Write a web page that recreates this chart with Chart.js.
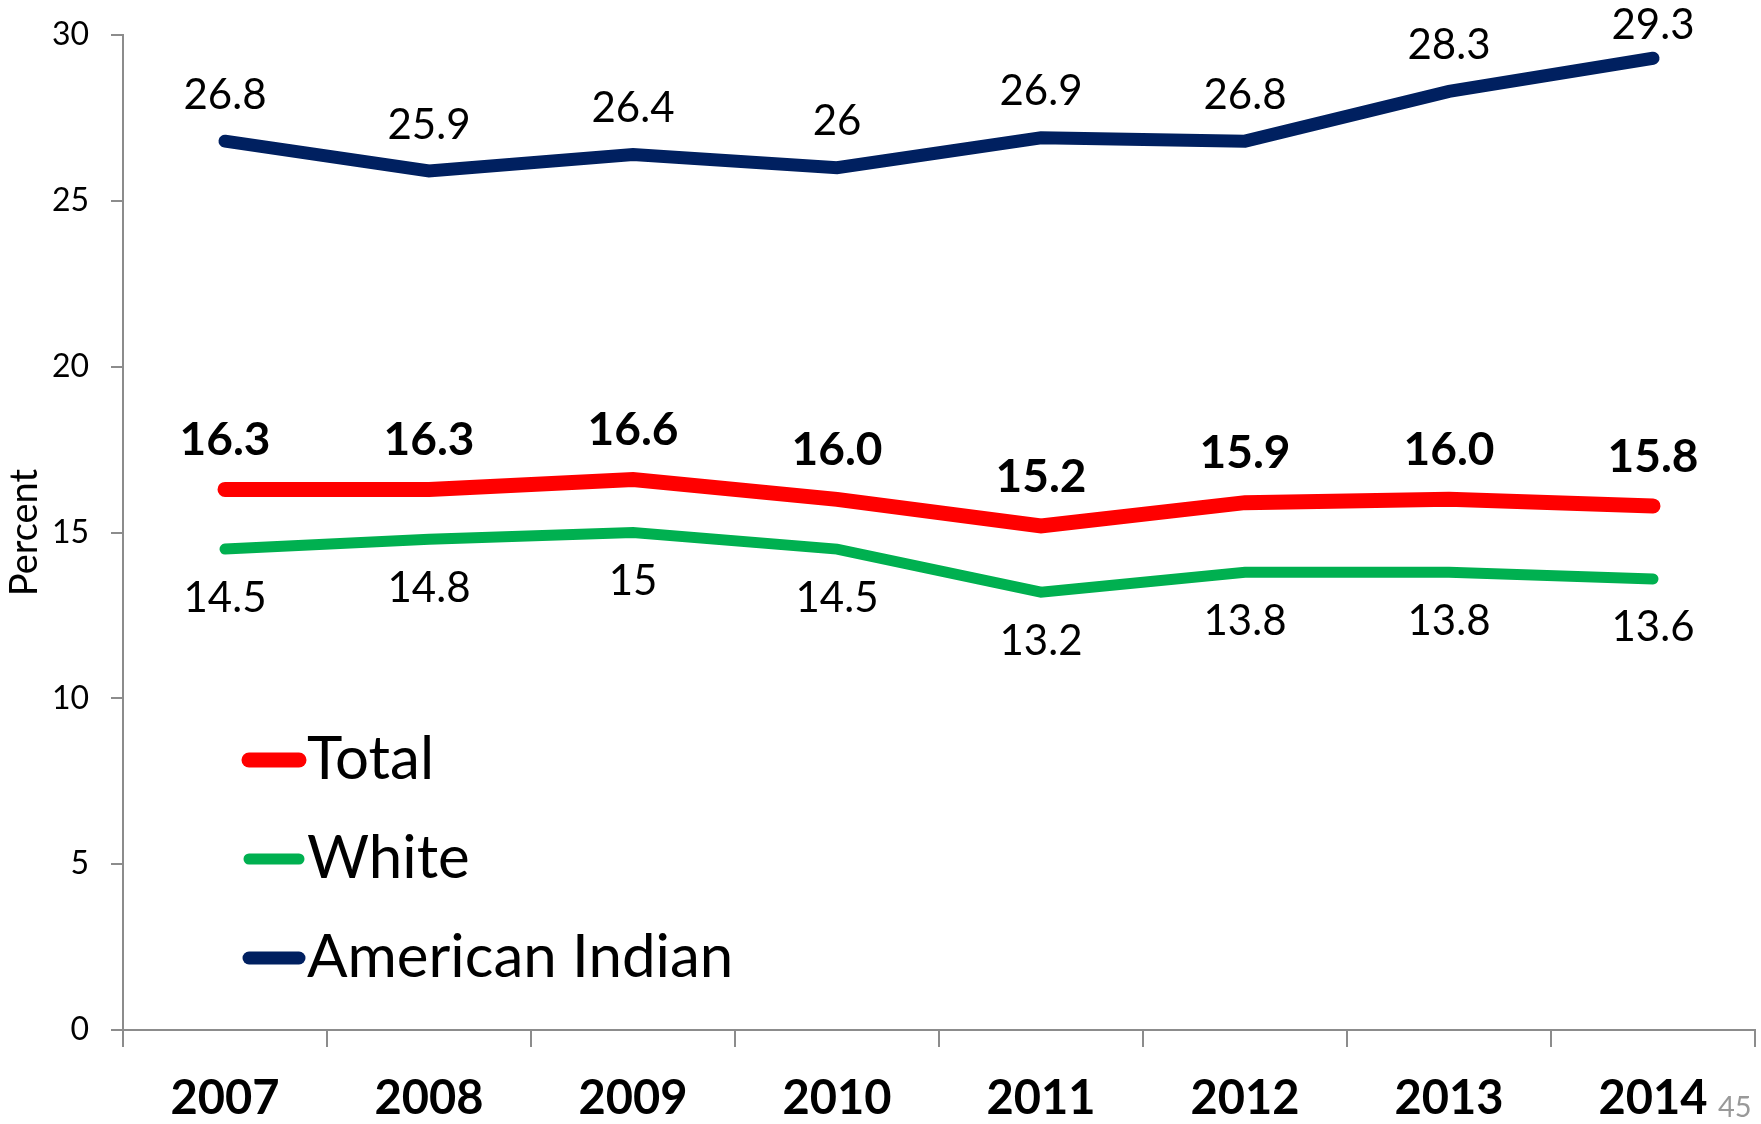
<!DOCTYPE html>
<html>
<head>
<meta charset="utf-8">
<script src="https://cdn.jsdelivr.net/npm/chart.js@4"></script>
<style>
  html, body { margin: 0; padding: 0; background: #fff; }
  #wrap { position: relative; width: 1761px; height: 1124px; }
  #page { position: absolute; left: 1718px; top: 1088px; font-family: Lato, sans-serif; font-size: 29px; color: #999; }
</style>
</head>
<body>
<div id="wrap">
  <canvas id="c" width="1761" height="1124"></canvas>
  <div id="page">45</div>
</div>
<script>
const years = ['2007', '2008', '2009', '2010', '2011', '2012', '2013', '2014'];
const totalValues = [16.3, 16.3, 16.6, 16.0, 15.2, 15.9, 16.0, 15.8];
const whiteValues = [14.5, 14.8, 15, 14.5, 13.2, 13.8, 13.8, 13.6];
const americanIndianValues = [26.8, 25.9, 26.4, 26, 26.9, 26.8, 28.3, 29.3];
const totalLabels = ['16.3', '16.3', '16.6', '16.0', '15.2', '15.9', '16.0', '15.8'];
const whiteLabels = ['14.5', '14.8', '15', '14.5', '13.2', '13.8', '13.8', '13.6'];
const americanIndianLabels = ['26.8', '25.9', '26.4', '26', '26.9', '26.8', '28.3', '29.3'];
const yTicks = [0, 5, 10, 15, 20, 25, 30];

const FONT = 'Lato, "Open Sans", sans-serif';
const AXIS = '#8c8c8c';

const labelPlugin = {
  id: 'valueLabels',
  afterDatasetsDraw(chart) {
    const ctx = chart.ctx;
    ctx.save();
    ctx.textAlign = 'center';
    ctx.textBaseline = 'middle';
    ctx.fillStyle = '#000';
    chart.data.datasets.forEach((ds, di) => {
      const meta = chart.getDatasetMeta(di);
      meta.data.forEach((pt, i) => {
        let y = pt.y + ds.labelOffset;
        if (y < 25) y = 25;
        ctx.font = ds.labelFont;
        ctx.fillText(ds.labelTexts[i], pt.x, y);
      });
    });
    ctx.restore();
  }
};

const legendPlugin = {
  id: 'innerLegend',
  afterDraw(chart) {
    const ctx = chart.ctx;
    const a = chart.chartArea;
    ctx.save();
    ctx.textBaseline = 'middle';
    ctx.textAlign = 'left';
    ctx.fillStyle = '#000';
    ctx.font = '60px ' + FONT;
    chart.data.datasets.forEach((ds, i) => {
      const y = 760 + i * 99;
      const x0 = a.left + 126;
      ctx.strokeStyle = ds.borderColor;
      ctx.lineWidth = ds.legendWidth;
      ctx.lineCap = 'round';
      ctx.beginPath();
      ctx.moveTo(x0, y);
      ctx.lineTo(x0 + 50, y);
      ctx.stroke();
      ctx.fillText(ds.label, x0 + 58, y);
    });
    ctx.restore();
  }
};

new Chart(document.getElementById('c'), {
  type: 'line',
  data: {
    labels: years,
    datasets: [
      { label: 'Total', data: totalValues, borderColor: '#ff0000', borderWidth: 15, labelTexts: totalLabels,
        labelOffset: -49, labelFont: 'bold 46px ' + FONT, legendWidth: 15 },
      { label: 'White', data: whiteValues, borderColor: '#00b050', borderWidth: 11, labelTexts: whiteLabels,
        labelOffset: 49, labelFont: '42px ' + FONT, legendWidth: 11 },
      { label: 'American Indian', data: americanIndianValues, borderColor: '#002060', borderWidth: 13, labelTexts: americanIndianLabels,
        labelOffset: -46, labelFont: '42px ' + FONT, legendWidth: 13 }
    ]
  },
  options: {
    responsive: false,
    animation: false,
    events: [],
    layout: { padding: { left: 0, top: 35, right: 6, bottom: 0 } },
    elements: {
      point: { radius: 0 },
      line: { tension: 0, borderCapStyle: 'round', borderJoinStyle: 'miter', fill: false }
    },
    plugins: { legend: { display: false }, tooltip: { enabled: false } },
    scales: {
      x: {
        type: 'category',
        offset: true,
        grid: { offset: true, drawOnChartArea: false, drawTicks: true, tickLength: 17, color: AXIS, lineWidth: 2 },
        border: { color: AXIS, width: 2 },
        ticks: { color: '#000', font: { family: FONT, size: 47, weight: 'bold' }, padding: 24, maxRotation: 0 },
        afterFit(s) { s.height = 94; }
      },
      y: {
        min: 0, max: 30,
        afterBuildTicks(s) { s.ticks = yTicks.map(v => ({ value: v })); },
        grid: { drawOnChartArea: false, drawTicks: true, tickLength: 12, color: AXIS, lineWidth: 2 },
        border: { color: AXIS, width: 2 },
        ticks: { color: '#000', font: { family: FONT, size: 32 }, padding: 22 },
        title: { display: true, text: 'Percent', color: '#000', font: { family: FONT, size: 38 }, padding: { top: 2, bottom: 0 } },
        afterFit(s) { s.width = 123; s.paddingTop = 0; }
      }
    }
  },
  plugins: [labelPlugin, legendPlugin]
});
</script>
</body>
</html>
